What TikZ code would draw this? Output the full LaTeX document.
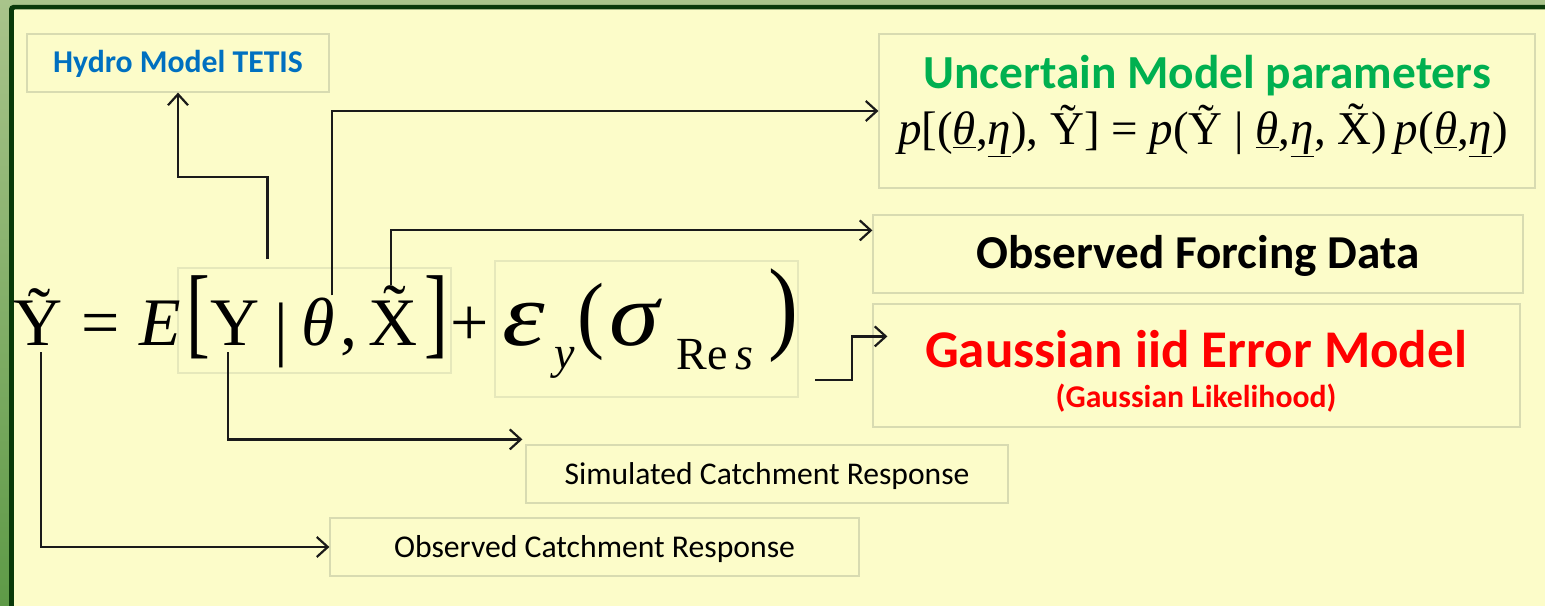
\documentclass[tikz,border=0pt]{standalone}
\usepackage{graphicx}
\usepackage{fontspec}
\setmainfont{Liberation Serif}
\newfontfamily\calib{Carlito}
\usetikzlibrary{arrows.meta,calc}
\definecolor{cream}{HTML}{FCFCC9}
\definecolor{outerg}{HTML}{A9C48B}
\definecolor{outergd}{HTML}{5E9A47}
\definecolor{darkg}{HTML}{0A3A0A}
\definecolor{boxline}{HTML}{D8DBB1}
\definecolor{linec}{HTML}{1A1A1A}
\definecolor{hblue}{HTML}{0070C0}
\definecolor{pgreen}{HTML}{00B050}
\definecolor{ered}{HTML}{FF0000}
\newcommand\uln[1]{\underline{\textit{#1}}}
\begin{document}
\begin{tikzpicture}[x=1bp,y=-1bp,
  tbox/.style={draw=boxline, line width=1.2bp, inner sep=0, text depth=0bp, align=center},
  arr/.style={draw=linec, line width=2.2bp, -{Straight Barb[length=11bp,width=20bp]}},
  eqg/.style={inner sep=0, anchor=base, font=\fontsize{68bp}{70bp}\selectfont},
  eqb/.style={inner sep=0, anchor=base, font=\fontsize{90bp}{92bp}\selectfont},
  eqsub/.style={inner sep=0, anchor=base, font=\fontsize{46bp}{48bp}\selectfont},
  sans/.style={font=\calib\fontsize{#1bp}{#1bp}\selectfont},
  sansb/.style={font=\calib\bfseries\fontsize{#1bp}{#1bp}\selectfont}]
\useasboundingbox (0,0) rectangle (1545,606);
\clip (0,0) rectangle (1545,606);
% background frame
\fill[outerg] (0,0) rectangle (1545,606);
\shade[top color=outerg, bottom color=outergd] (0,0) rectangle (9,606);
\fill[darkg, rounded corners=4bp] (9,5) rectangle (1570,630);
\fill[cream, rounded corners=1bp] (14,9.5) rectangle (1570,630);

% boxes
\node[tbox, minimum width=302bp, minimum height=58bp, text height=20bp, sansb=31.7, text=hblue] (hydro) at (178,63) {Hydro Model TETIS};
\node[tbox, minimum width=656bp, minimum height=154bp] (unc) at (1207,111) {};
\node[inner sep=0, anchor=base, sansb=47.4, text=pgreen] (uncT) at (1207,89) {Uncertain Model parameters};
\node[inner sep=0, anchor=base, font=\fontsize{47bp}{50bp}\selectfont] (uncF) at (1203,145)
  {\textit{p}[(\uln{θ},\uln{η}), Ỹ] = \textit{p}(Ỹ | \uln{θ},\uln{η}, X̃)\,\textit{p}(\uln{θ},\uln{η})};
\node[tbox, minimum width=650bp, minimum height=78bp, text height=29.8bp, sansb=47.2] (forc) at (1198,254) {Observed Forcing Data};
\node[tbox, minimum width=647bp, minimum height=123bp] (gau) at (1196.5,365.5) {};
\node[inner sep=0, anchor=base, sansb=53, text=ered] (gauT) at (1196,367) {Gaussian iid Error Model};
\node[inner sep=0, anchor=base, sansb=31.7, text=ered] (gauS) at (1196,407) {(Gaussian Likelihood)};
\node[tbox, minimum width=482bp, minimum height=58bp, text height=20bp, sans=31.6] (sim) at (767,474) {Simulated Catchment Response};
\node[tbox, minimum width=529bp, minimum height=58bp, text height=20bp, sans=31.7] (obs) at (594.5,547) {Observed Catchment Response};
\node[tbox, minimum width=273bp, minimum height=105bp, draw=boxline!60!cream] (eb1) at (314.5,320.5) {};
\node[tbox, minimum width=303bp, minimum height=136bp, draw=boxline!60!cream] (eb2) at (646.5,329) {};

% equation
\node[eqg] (Yt) at (38,345) {Ỹ};
\node[eqg] (eqs) at (101,345) {=};
\node[eqg] (E) at (160,345) {\textit{E}};
\node[eqg] (lb) at (198,345) {\scalebox{1.05}[1.48]{[}};
\node[eqg] (Y) at (235,345) {Y};
\node[eqg] (bar) at (281,352) {\scalebox{1}[1.05]{|}};
\node[eqg] (th) at (318,345) {\textit{θ}};
\node[eqg] (cm) at (349,345) {,};
\node[eqg] (X) at (393,345) {X̃};
\node[eqg] (rb) at (436,345) {\scalebox{1.05}[1.48]{]}};
\node[eqg] (pl) at (470,345) {+};
\node[eqb] (eps) at (524,345) {\scalebox{1.2}[1]{\textit{ε}}};
\node[eqsub] (ysub) at (565,368) {\textit{y}};
\node[eqb] (lp) at (591,342) {\scalebox{0.9}[0.95]{(}};
\node[eqb] (sig) at (636,345) {\scalebox{1.12}[1]{\textit{σ}}};
\node[eqsub] (res) at (715,369) {Re\,\textit{s}};
\node[eqb] (rp) at (783,340) {\scalebox{1}[1.15]{)}};

% connector start points
\coordinate (sH) at ($(eb1.north west)+(90,-8)$);
\coordinate (sTh) at ($(th.north)+(14,-2)$);
\coordinate (sX) at (391,285);
\coordinate (sG) at (815,380);
\coordinate (sY) at ($(Y.south)+(-7,7)$);
\coordinate (sYt) at ($(Yt.south)+(3,7)$);

% connectors
\draw[arr] (sH) -- (sH |- 0,177) -| (hydro.south);
\draw[arr] (sTh) |- (unc.west);
\draw[arr] (sX) |- ($(forc.north west)+(0,16)$);
\draw[arr] (sG) -- (852,380) |- ($(gau.north west)+(15,33)$);
\draw[arr] (sY) |- ($(sim.north west)+(-3,-5)$);
\draw[arr] (sYt) |- (obs.west);
\end{tikzpicture}
\end{document}
